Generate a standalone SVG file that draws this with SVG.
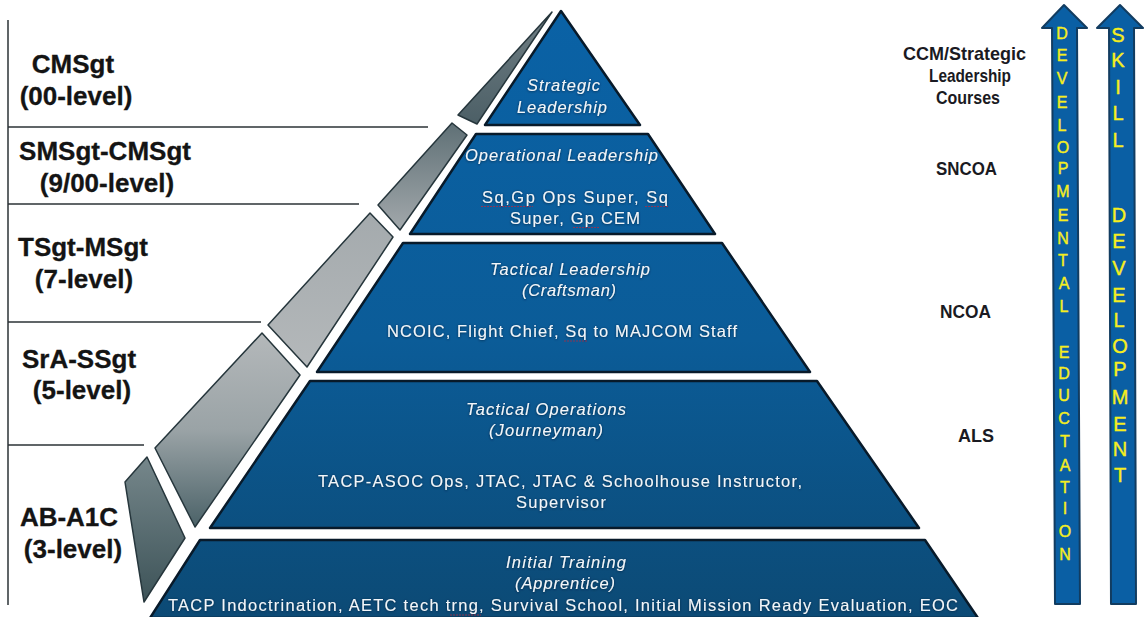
<svg xmlns="http://www.w3.org/2000/svg" width="1145" height="617" viewBox="0 0 1145 617">
<style>
.tier{fill:url(#blue);stroke:#081a2a;stroke-width:2.500;stroke-linejoin:round}
.side{stroke:#26363c;stroke-width:1.500;stroke-linejoin:round}
.rule{stroke:#2b3236;stroke-width:1.500;fill:none}
.rank{font:bold 26px "Liberation Sans",Arial,sans-serif;fill:#141414;text-anchor:middle;stroke:#141414;stroke-width:.3}
.course{font:bold 19px "Liberation Sans",Arial,sans-serif;fill:#1a1a22}
.t{font:16.500px "Liberation Sans",Arial,sans-serif;fill:#f2f6fa;filter:url(#glow)}
.i{font-style:italic}
.arrow{fill:#0a5fa4;stroke:#123c60;stroke-width:2;stroke-linejoin:round}
.l{font-family:"Liberation Sans",Arial,sans-serif;fill:#f6ee1e;stroke:#f6ee1e;stroke-width:.4;text-anchor:middle}
.sq{fill:none;stroke:#b8283c;stroke-width:1;stroke-dasharray:2 1;opacity:.75}
</style>
<defs>
<linearGradient id="blue" gradientUnits="userSpaceOnUse" x1="0" y1="0" x2="0" y2="617"><stop offset="0" stop-color="#0a62a6"/><stop offset=".55" stop-color="#0b5c98"/><stop offset="1" stop-color="#0c4a75"/></linearGradient>
<linearGradient id="g1" x1="0" y1="0" x2="0" y2="1"><stop offset="0" stop-color="#6f7e84"/><stop offset="1" stop-color="#4c5f66"/></linearGradient>
<linearGradient id="g2" x1="0" y1="0" x2="0" y2="1"><stop offset="0" stop-color="#5f7076"/><stop offset="1" stop-color="#a2a8ab"/></linearGradient>
<linearGradient id="g3" x1="0" y1="0" x2="0" y2="1"><stop offset="0" stop-color="#a4aaad"/><stop offset="1" stop-color="#b4b8ba"/></linearGradient>
<linearGradient id="g4" x1="0" y1="0" x2="0" y2="1"><stop offset="0" stop-color="#b4b8ba"/><stop offset=".5" stop-color="#9aa3a6"/><stop offset="1" stop-color="#4b6268"/></linearGradient>
<linearGradient id="g5" x1="0" y1="0" x2="0" y2="1"><stop offset="0" stop-color="#76878b"/><stop offset="1" stop-color="#3d5358"/></linearGradient>
<filter id="glow" x="-5%" y="-40%" width="110%" height="180%"><feDropShadow dx="0" dy="0.5" stdDeviation="1" flood-color="#06203c" flood-opacity=".9"/></filter>
</defs>

<g id="connectors">
<path class="rule" d="M8 20V605"/>
<path class="rule" d="M8 127H428"/>
<path class="rule" d="M8 204H359"/>
<path class="rule" d="M8 322H261"/>
<path class="rule" d="M8 445H144"/>
</g>

<g id="rank-cmsgt"><polygon class="side" fill="url(#g1)" points="552,12 458,115 477,124"/><text class="rank" x="73" y="73">CMSgt</text><text class="rank" x="76" y="105">(00-level)</text></g>
<g id="rank-smsgt"><polygon class="side" fill="url(#g2)" points="452,123 467,135 400,230 378,205"/><text class="rank" x="105" y="160">SMSgt-CMSgt</text><text class="rank" x="107" y="192">(9/00-level)</text></g>
<g id="rank-tsgt"><polygon class="side" fill="url(#g3)" points="370,213 393,237 307,367 268,325"/><text class="rank" x="83" y="256">TSgt-MSgt</text><text class="rank" x="84" y="288">(7-level)</text></g>
<g id="rank-sra"><polygon class="side" fill="url(#g4)" points="262,333 300,375 195,527 155,448"/><text class="rank" x="79" y="368">SrA-SSgt</text><text class="rank" x="82" y="399">(5-level)</text></g>
<g id="rank-ab"><polygon class="side" fill="url(#g5)" points="147,457 185,538 144,602 125,482"/><text class="rank" x="69" y="526">AB-A1C</text><text class="rank" x="73" y="558">(3-level)</text></g>

<g id="tier-strategic">
<polygon class="tier" points="561,11 640,125 485,125"/>
<text class="t i" x="527" y="91" textLength="73" lengthAdjust="spacing">Strategic</text>
<text class="t i" x="517" y="113" textLength="90" lengthAdjust="spacing">Leadership</text>
</g>
<g id="tier-operational">
<polygon class="tier" points="476,134 648,134 715,234 410,234"/>
<text class="t i" x="465" y="161" textLength="193" lengthAdjust="spacing">Operational Leadership</text>
<text class="t" x="482" y="203" textLength="186" lengthAdjust="spacing">Sq,Gp Ops Super, Sq</text>
<text class="t" x="510" y="224" textLength="130" lengthAdjust="spacing">Super, Gp CEM</text>
<path class="sq" d="M481 206.500H533M645 206.500H669M573 227.500H600"/>
</g>
<g id="tier-tactical-leadership">
<polygon class="tier" points="403,243 722,243 810,372 317,372"/>
<text class="t i" x="490" y="275" textLength="160" lengthAdjust="spacing">Tactical Leadership</text>
<text class="t i" x="522" y="296" textLength="94" lengthAdjust="spacing">(Craftsman)</text>
<text class="t" x="387" y="337" textLength="350" lengthAdjust="spacing">NCOIC, Flight Chief, Sq to MAJCOM Staff</text>
<path class="sq" d="M564 341H588"/>
</g>
<g id="tier-tactical-operations">
<polygon class="tier" points="310,381 817,381 919,528 210,528"/>
<text class="t i" x="466" y="415" textLength="160" lengthAdjust="spacing">Tactical Operations</text>
<text class="t i" x="489" y="436" textLength="114" lengthAdjust="spacing">(Journeyman)</text>
<text class="t" x="318" y="487" textLength="484" lengthAdjust="spacing">TACP-ASOC Ops, JTAC, JTAC &amp; Schoolhouse Instructor,</text>
<text class="t" x="516" y="508" textLength="90" lengthAdjust="spacing">Supervisor</text>
</g>
<g id="tier-initial">
<polygon class="tier" points="200,540 925,540 978,618 150,618"/>
<text class="t i" x="506" y="568" textLength="120" lengthAdjust="spacing">Initial Training</text>
<text class="t i" x="515" y="589" textLength="100" lengthAdjust="spacing">(Apprentice)</text>
<text class="t" x="168" y="611" textLength="790" lengthAdjust="spacing">TACP Indoctrination, AETC tech trng, Survival School, Initial Mission Ready Evaluation, EOC</text>
<path class="sq" d="M450 615H481"/>
</g>

<g id="courses">
<text class="course" x="903" y="60" textLength="123" lengthAdjust="spacingAndGlyphs">CCM/Strategic</text>
<text class="course" x="929" y="82" textLength="82" lengthAdjust="spacingAndGlyphs">Leadership</text>
<text class="course" x="936" y="104" textLength="64" lengthAdjust="spacingAndGlyphs">Courses</text>
<text class="course" x="936" y="175" textLength="61" lengthAdjust="spacingAndGlyphs">SNCOA</text>
<text class="course" x="940" y="318" textLength="51" lengthAdjust="spacingAndGlyphs">NCOA</text>
<text class="course" x="958" y="442" textLength="36" lengthAdjust="spacingAndGlyphs">ALS</text>
</g>

<g id="arrow-developmental">
<polygon class="arrow" points="1064,5 1087,28 1077,28 1080,604 1055,604 1052,28 1042,28"/>
<text class="l" font-size="16" x="1062 1062 1062 1062 1062 1063 1063 1063 1063 1063 1063 1064 1064 1064 1064 1064 1064 1064 1065 1065 1065 1065 1065 1065" y="39 61 84 108 131 153 174 197 221 244 266 289 312 335 358 379 401 424 447 471 493 514 537 560">DEVELOPMENTAL EDUCTATION</text>
</g>
<g id="arrow-skill">
<polygon class="arrow" points="1120,5 1143,28 1134,28 1136,604 1111,604 1109,28 1097,28"/>
<text class="l" font-size="20" x="1118 1118 1118 1118 1118 1118 1119 1119 1119 1119 1119 1120 1120 1120 1120 1120 1120" y="42 67 94 120 147 180 222 248 275 302 327 353 376 404 431 456 482">SKILL DEVELOPMENT</text>
</g>
</svg>
